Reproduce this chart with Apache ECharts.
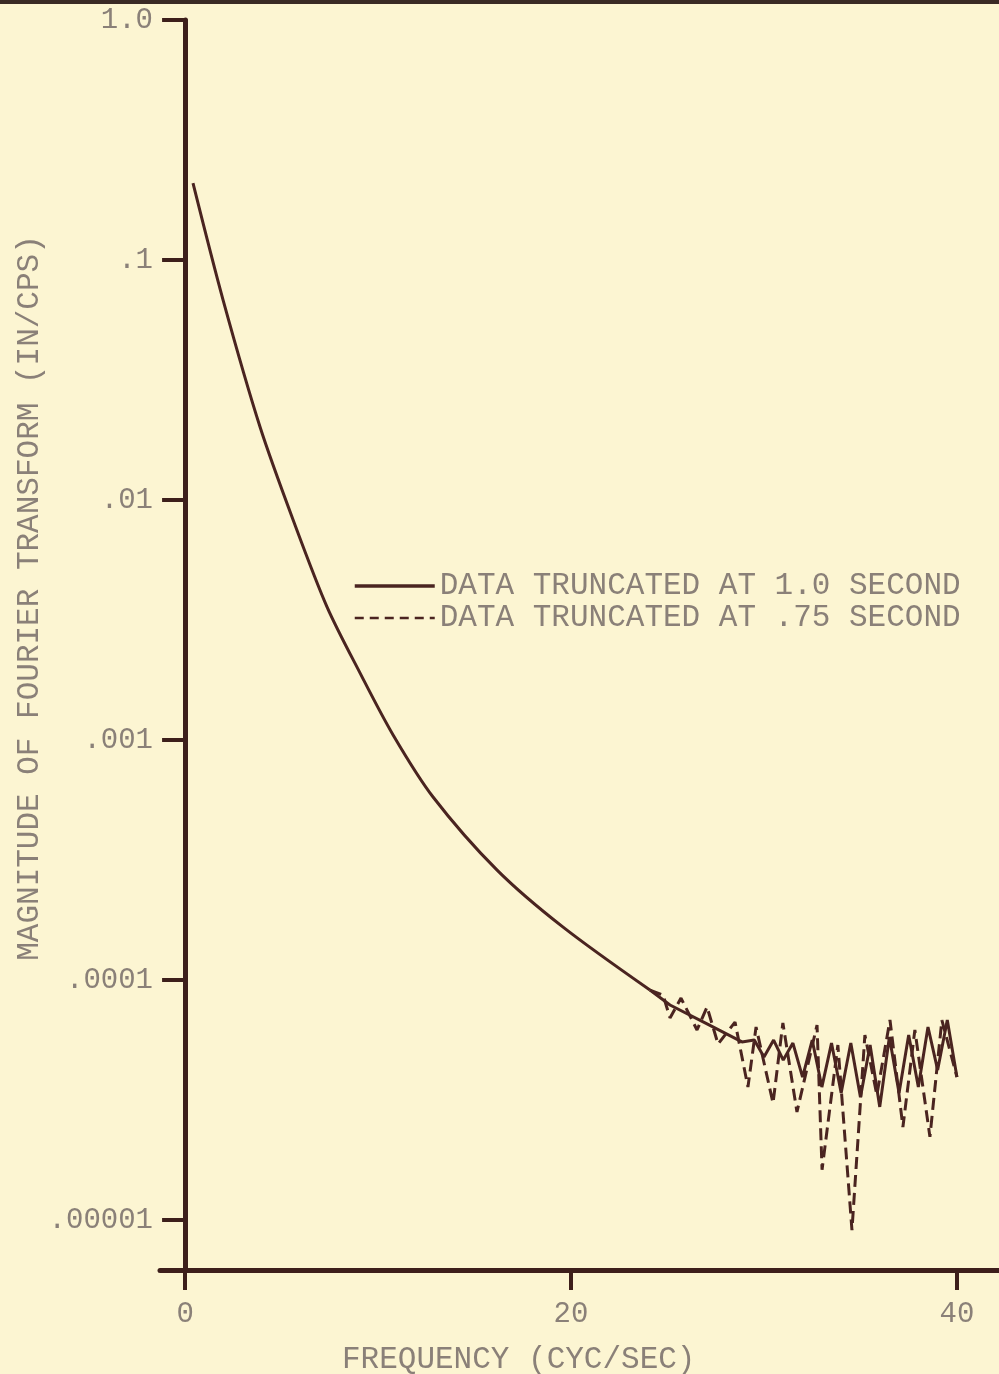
<!DOCTYPE html>
<html>
<head>
<meta charset="utf-8">
<script src="https://cdn.jsdelivr.net/npm/echarts@6/dist/echarts.min.js"></script>
<style>
  html, body { margin: 0; padding: 0; background: #fcf5d2; }
  #chart { width: 999px; height: 1374px; }
</style>
</head>
<body>
<div id="chart"></div>
<script>
// smooth part, common to both records (cyc/sec, in/cps)
const trendFreq = [0.41, 1.97, 3.89, 5.60, 7.36, 9.07, 10.78, 12.85, 16.17, 19.59, 24.09];
const trendMag = [0.209, 0.0681, 0.0201, 0.00826, 0.00358, 0.00190, 0.00105, 0.000579, 0.000287, 0.000166, 0.0000908];

// data truncated at 1.0 second
const solidFreq = [24.09, 25.13, 27.05, 28.86, 29.5, 30, 30.5, 31, 31.5, 32, 32.5, 33, 33.5, 34, 34.5, 35,
  35.5, 36, 36.5, 37, 37.5, 38, 38.5, 39, 39.5, 40];
const solidMag = [9.08e-5, 7.87e-5, 6.56e-5, 5.52e-5, 5.62e-5, 4.78e-5, 5.62e-5, 4.64e-5, 5.46e-5, 3.94e-5,
  5.62e-5, 3.58e-5, 5.46e-5, 3.38e-5, 5.46e-5, 3.25e-5, 5.36e-5, 2.96e-5, 5.79e-5, 3.38e-5, 5.90e-5,
  3.58e-5, 6.37e-5, 4.22e-5, 6.81e-5, 3.94e-5];

// data truncated at .75 second
const dashedFreq = [24.09, 24.77, 25.13, 25.70, 26.53, 27.05, 27.62, 28.50, 29.17, 29.59, 30.47, 30.98, 31.71,
  32.75, 33.01, 33.83, 34.56, 35.23, 35.85, 36.53, 37.20, 37.82, 38.60, 39.22, 40];
const dashedMag = [9.08e-5, 8.66e-5, 6.95e-5, 8.41e-5, 6.19e-5, 7.72e-5, 5.41e-5, 6.68e-5, 3.58e-5, 6.37e-5,
  3.07e-5, 6.62e-5, 2.82e-5, 6.49e-5, 1.62e-5, 5.36e-5, 9.08e-6, 5.90e-5, 3.32e-5, 6.81e-5, 2.44e-5,
  6.19e-5, 2.22e-5, 6.81e-5, 3.94e-5];

const xTicks = [0, 20, 40];
const yTickLabels = ['1.0', '.1', '.01', '.001', '.0001', '.00001'];
const seriesNames = ['DATA TRUNCATED AT 1.0 SECOND', 'DATA TRUNCATED AT .75 SECOND'];

const ink = '#3d1f1b';
const curve = '#4a2420';
const grey = '#8a8078';
const mono = '"Liberation Mono", "DejaVu Sans Mono", monospace';

const zip = (xs, ys) => xs.map((x, i) => [x, ys[i]]);

const chart = echarts.init(document.getElementById('chart'));
chart.setOption({
  animation: false,
  backgroundColor: '#fcf5d2',
  grid: { left: 160, right: 0, top: 20, bottom: 104, containLabel: false },
  title: {
    text: 'FREQUENCY (CYC/SEC)',
    left: 337,
    top: 1339,
    textStyle: { fontFamily: mono, fontSize: 31, fontWeight: 'normal', color: grey }
  },
  legend: {
    orient: 'vertical',
    left: 348,
    top: 565,
    itemGap: 0,
    itemWidth: 80,
    itemHeight: 14,
    itemStyle: { opacity: 0 },
    data: [
      { name: seriesNames[0], lineStyle: { width: 3.5 } },
      { name: seriesNames[1], lineStyle: { width: 2.5, type: [9, 6] } }
    ],
    textStyle: { fontFamily: mono, fontSize: 31, color: grey, lineHeight: 32 }
  },
  graphic: [
    { type: 'rect', shape: { x: 0, y: 0, width: 999, height: 4 }, style: { fill: '#3a2a25' } },
    {
      type: 'text', x: 30, y: 598, rotation: Math.PI / 2,
      style: {
        text: 'MAGNITUDE OF FOURIER TRANSFORM (IN/CPS)',
        font: '31px ' + mono, fill: grey, align: 'center', verticalAlign: 'middle'
      }
    }
  ],
  xAxis: {
    type: 'value',
    min: -1.3,
    max: 42.18,
    splitLine: { show: false },
    axisLine: { lineStyle: { color: ink, width: 5 } },
    axisTick: { customValues: xTicks, length: 20, lineStyle: { color: ink, width: 4 } },
    axisLabel: { customValues: xTicks, margin: 30, fontFamily: mono, fontSize: 29, color: grey }
  },
  yAxis: {
    type: 'log',
    logBase: 10,
    min: 6.19e-6,
    max: 1,
    splitLine: { show: false },
    axisLine: { onZero: true, lineStyle: { color: ink, width: 5 } },
    axisTick: { length: 23, lineStyle: { color: ink, width: 4 } },
    axisLabel: {
      showMinLabel: false,
      margin: 7,
      fontFamily: mono,
      fontSize: 29,
      color: grey,
      formatter: v => {
        const i = -Math.round(Math.log10(v));
        return Math.abs(Math.log10(v) + i) < 0.01 && yTickLabels[i] ? yTickLabels[i] : '';
      }
    }
  },
  series: [
    {
      name: seriesNames[0], type: 'line', data: zip(trendFreq, trendMag),
      smooth: 0.3, symbol: 'none', lineStyle: { color: curve, width: 3 }, itemStyle: { color: curve }
    },
    {
      name: seriesNames[0], type: 'line', data: zip(solidFreq, solidMag),
      symbol: 'none', lineStyle: { color: curve, width: 3 }, itemStyle: { color: curve }
    },
    {
      name: seriesNames[1], type: 'line', data: zip(dashedFreq, dashedMag),
      symbol: 'none', lineStyle: { color: curve, width: 3, type: [12, 6] }, itemStyle: { color: curve }
    }
  ]
});
</script>
</body>
</html>
